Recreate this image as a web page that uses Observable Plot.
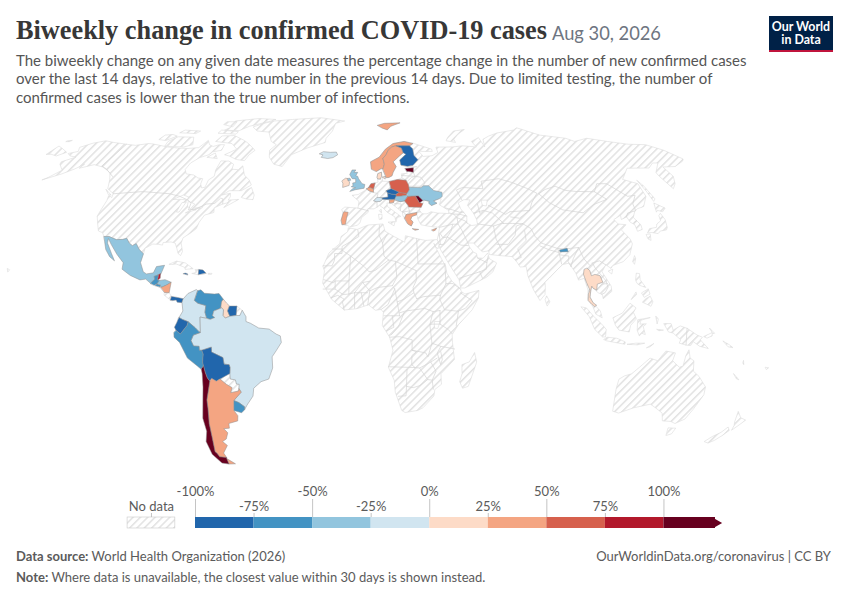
<!DOCTYPE html>
<html><head><meta charset="utf-8">
<script src="https://cdn.jsdelivr.net/npm/d3@7"></script>
<script src="https://cdn.jsdelivr.net/npm/@observablehq/plot@0.6"></script>
<style>
html,body{margin:0;padding:0;background:#fff}
#page{position:relative;width:850px;height:600px;overflow:hidden;font-family:Lato,sans-serif}
#page>*{position:absolute}
#title{left:16px;top:13px;font:700 26.3px "Liberation Serif",serif;color:#373737;white-space:nowrap;line-height:36px}
#date{left:552px;top:20px;font:400 18.3px Lato;color:#6e7581;white-space:nowrap;line-height:26px}
#sub{left:16px;top:51px;width:780px;font:400 15px/18.4px Lato;color:#555}
#logo{left:769px;top:16px;width:64px;height:36px;background:#002147;border-bottom:2.5px solid #c0143c;box-sizing:border-box;color:#fff;font:700 12.4px/13px Lato;text-align:center;padding-top:4px;white-space:nowrap}
#src{left:16px;top:548px;font:400 13px Lato;color:#5b5b5b;line-height:16px}
#lnk{right:19px;top:548px;font:400 13px Lato;color:#5b5b5b;line-height:16px}
#note{left:16px;top:569px;font:400 13px Lato;color:#5b5b5b;line-height:16px}
#map{left:0;top:105px}
#leg{left:0;top:480px}
</style></head><body>
<div id="page">
<div id="title">Biweekly change in confirmed COVID-19 cases</div>
<div id="date">Aug 30, 2026</div>
<div id="sub">The biweekly change on any given date measures the percentage change in the number of new confirmed cases<br>over the last 14 days, relative to the number in the previous 14 days. Due to limited testing, the number of<br>confirmed cases is lower than the true number of infections.</div>
<div id="logo">Our World<br>in Data</div>
<div id="map"></div>
<div id="leg"></div>
<div id="src"><b>Data source:</b> World Health Organization (2026)</div>
<div id="lnk">OurWorldinData.org/coronavirus | CC BY</div>
<div id="note"><b>Note:</b> Where data is unavailable, the closest value within 30 days is shown instead.</div>
</div>
<script>
// ---------- legend / scale ----------
const thresholds=[-75,-50,-25,0,25,50,75,100];
const binColors=["#2166ac","#4393c3","#92c5de","#d1e5f0","#fddbc7","#f4a582","#d6604d","#b2182b","#67001f"];
const binEdges=[-100,-75,-50,-25,0,25,50,75,100,122];
const tickValues=[-100,-75,-50,-25,0,25,50,75,100];
const tickLabels=["-100%","-75%","-50%","-25%","0%","25%","50%","75%","100%"];

// ---------- no-data land ----------
const northAmerica=[[-168,65.6],[-164,66.5],[-166.5,68.3],[-162,70.2],[-156.5,71.3],[-150,70.5],[-141,69.7],[-135,69.2],[-128,70],[-125,69.8],[-115,68.5],[-108,68],[-102,67.8],[-96,68.2],[-94,71.5],[-91,69.5],[-88,68.7],[-85,69.5],[-82,69.5],[-81.5,67],[-86,66.3],[-87,65],[-91,63.8],[-94,61.5],[-94.5,58.8],[-92.5,57],[-88,56.5],[-85,55.3],[-82.3,55],[-82,52.9],[-80.5,51.3],[-79,51.6],[-79,54.5],[-77,56],[-78,58.7],[-78,62.4],[-73.5,62.3],[-70,61],[-69.5,58.9],[-66,58.7],[-64.5,60.3],[-61.5,56.5],[-58,54.5],[-56,52.5],[-60,50.2],[-66,50.2],[-69,48.5],[-65,49.2],[-64.5,47.8],[-65,46.5],[-60,46.8],[-66,43.6],[-64.5,45.5],[-67,45],[-70.5,43.5],[-70,41.7],[-74,40.7],[-75.5,38],[-76,35.5],[-78,33.9],[-81,32],[-81.3,30],[-80,26.8],[-80.5,25.2],[-81.8,26],[-82.8,28],[-84,30],[-86,30.4],[-89.5,30.2],[-89.5,29.2],[-91.5,29.5],[-94,29.6],[-97,28],[-97.2,25.9],[-99.5,27.5],[-101.5,29.8],[-103,29],[-104.7,30],[-106.5,31.8],[-108.2,31.4],[-111,31.3],[-114.8,32.5],[-117.1,32.5],[-118.5,34],[-120.6,34.6],[-122.5,37.5],[-124.3,40.3],[-124.2,43],[-124,46.3],[-124.7,48.4],[-122.5,47.5],[-123,49],[-125,50],[-127.5,51],[-130,54.5],[-133,57.3],[-136,58.5],[-140,59.8],[-146,60.8],[-149,60],[-152,59.3],[-151.5,61],[-154,59],[-158,57],[-165,54.5],[-163,55.6],[-160,58.5],[-162,59.5],[-165,61],[-166,62],[-161,64],[-165,64.5]];
const chukotkaWest=[[-179.9,65.2],[-179.9,68.9],[-175,67.6],[-170,66.1],[-173,64.5],[-177,65.2]];
const wrangel=[[-179.9,71.3],[-177.5,71.5],[-178,70.9],[-179.9,70.9]];
const baffin=[[-80,73.7],[-72,71.5],[-68,70],[-62,67],[-64,65],[-65,62.5],[-70,63],[-75,64.5],[-78,65],[-73,67.5],[-78,70],[-89,71],[-88,73.5]];
const victoriaIsland=[[-117,69],[-105,68.5],[-101,69.5],[-105,73],[-115,73.2],[-118,71]];
const banksIsland=[[-125,72],[-120,71.5],[-116,73.5],[-120,74.3],[-124.5,74]];
const ellesmere=[[-90,76.5],[-80,76.3],[-76,78.5],[-66,81],[-62,82.5],[-75,83.1],[-90,81.5],[-88,78]];
const devon=[[-92,75],[-80,74.6],[-80,75.7],[-92,76.5]];
const melville=[[-117,75.2],[-106,74.8],[-105,76],[-116,76.5]];
const axelHeiberg=[[-95,79.5],[-87,78.3],[-88,81],[-95,81]];
const southampton=[[-87,64],[-81,63.5],[-84,65.8]];
const newfoundland=[[-59,47.7],[-56,46.9],[-53,46.7],[-53,48.5],[-55.5,51.5],[-57.5,50.5]];
const vancouverIsland=[[-128,50.7],[-123.5,48.4],[-125,48.7]];
const greenland=[[-73,78.2],[-68,76],[-60,75.5],[-55,71],[-51,69.5],[-53.5,67],[-52,64],[-48,61],[-43,60],[-40,65],[-32,68],[-22,70.5],[-22,72.5],[-19,76],[-18,80],[-12,81.5],[-30,83.6],[-50,82.5],[-62,81.5],[-68,80]];
const hawaii=[[-156,20.2],[-155,19.8],[-155.5,19]];
const cuba=[[-85,21.9],[-82,23.1],[-78,22.4],[-74.2,20.2],[-77.7,19.9],[-78,20.7],[-82,22],[-84,21.8]];
const haiti=[[-74.4,18.4],[-71.7,18],[-71.7,19.9],[-73.3,19.9],[-72.7,18.7]];
const puertoRico=[[-67.2,18.4],[-65.7,18.4],[-65.9,18],[-67.1,18]];
const costaRica=[[-85.7,11.1],[-83.7,11],[-82.6,9.6],[-83,8.2],[-85.7,10]];
const frenchGuiana=[[-54,5.9],[-51.6,4.2],[-52.8,2.3],[-54.3,2.3]];
const paraguay=[[-58,-19.9],[-58,-22],[-55.8,-22.3],[-55.5,-23.9],[-54.3,-24],[-54.6,-25.6],[-55,-26.6],[-58.5,-27.2],[-57.6,-25.3],[-60,-24],[-62.6,-22]];
const eurasia=[[-9.3,43],[-8,43.8],[-1.7,43.4],[-1.2,46],[-4.7,48.4],[-1.6,48.7],[1.5,50.2],[3.5,51.4],[4.8,53],[8.5,53.6],[8.2,56],[8.6,57.1],[10.6,57.7],[10.9,54],[14.3,53.9],[18.6,54.7],[21,55.3],[21,57],[24.2,57.2],[23.5,59.2],[28,59.5],[30,60],[25,60.1],[21.5,60.7],[21.3,62.8],[25.3,65.2],[24,65.9],[21.5,64.5],[17.5,62],[18.8,60],[16.7,57.5],[16,56.2],[13,55.4],[11,59],[8,58],[5.3,59],[5,62],[10,64],[14,67.5],[19,70],[26,71],[31,70.2],[41,67.5],[41,66.5],[35,66.5],[33,66.7],[35,64.3],[40,64.6],[44,66],[44,68.4],[54,68.5],[60,69],[68,68.5],[67,71],[73,72.8],[73,68.5],[75,72],[80,73.5],[87,75],[100,76.5],[104,77.7],[113,74],[127,72.5],[130,71],[140,72.5],[150,71],[160,69.7],[170,69.5],[176,67],[179.9,63.2],[178,62.3],[170,60],[163,59.8],[163,56],[160,53],[156.7,51],[155.7,56],[156,57.5],[163,61.5],[160,61.5],[155,59.4],[143,59.3],[135,54.7],[141,53],[140,48],[135.5,44],[132,43.2],[130,42.3],[127.5,39.8],[129.4,37],[129,35.2],[126.5,34.5],[126.6,37],[125,38],[124.5,40],[121.5,39],[122,40.6],[118,39],[119,37.3],[122.5,37],[119.3,35],[121.8,31.5],[122,29.7],[119.5,25.5],[116,22.9],[111,21.4],[110,20.3],[108,21.7],[105.8,19],[109,13.5],[109,11.5],[105,8.7],[104.8,10.3],[103,11],[101,12.7],[100.5,13.5],[99.3,9.5],[100.5,7],[103.5,4],[104.2,1.4],[101.5,2.8],[100.4,5.5],[98.3,8.5],[98.7,12],[97.6,16.5],[95,15.8],[94.2,18.5],[91.8,22.3],[89,21.8],[86.5,20],[82.3,16.6],[80.2,15],[80.2,13],[79.8,10.3],[77.5,8],[75,12],[73,17.5],[72.7,21],[70,20.8],[69,22.5],[67,24.8],[61.6,25.2],[57,25.6],[56.8,27],[54,26.6],[50.5,30],[48,30],[48.5,28.5],[50,26.5],[51.3,26],[51.5,24.3],[54,24.2],[56.3,26.2],[56.8,24],[59.8,22.4],[57.8,19],[55,17],[52,15.7],[45,12.8],[43.3,12.8],[42.7,16],[39,21.5],[35.1,28],[34.9,29.5],[34.3,31.3],[35,33],[36,36],[33,36.2],[30.5,36.5],[27.5,37],[26.3,39.3],[26.3,40.2],[26,40.8],[23.7,40.2],[23,39],[24,38],[23,36.5],[21.5,37.3],[19.5,40.5],[19.4,41.8],[14.5,45.2],[12.3,45.4],[12.5,44],[16,41.8],[18.5,40.2],[16.8,39.8],[16,38],[15.7,40],[12.2,41.8],[10.3,43.5],[8.7,44.4],[6,43.1],[3,43.1],[3.2,41.8],[0,39.7],[-0.7,37.7],[-2,36.8],[-5.4,36.1],[-6.3,36.7],[-9,37],[-9.5,38.8],[-8.7,41]];
const africa=[[-5.9,35.8],[-2,35.2],[3,36.9],[10,37.3],[10.8,34.5],[15,32.4],[19.5,30.3],[20,32.8],[25,31.7],[29,31],[32.3,31.2],[34.3,31.3],[34.9,29.5],[34.3,27.8],[33.2,28.6],[32.6,29.9],[33.7,27.5],[35.5,24],[37.2,21],[37.5,18.5],[39.5,15.5],[43.2,12.5],[43.4,11.5],[45,10.5],[51.2,11.9],[50.8,9],[48,4.5],[42,-1.2],[39.3,-5],[39.5,-8],[40.6,-14.5],[35,-20],[35.5,-24],[32.7,-26],[32.5,-28.5],[28,-33],[25.7,-34],[20,-34.8],[18.4,-34],[15.1,-27],[14.5,-22.5],[11.8,-17.5],[13.7,-11],[12.2,-6],[9,-1.5],[9.5,3.5],[8.5,4.6],[6,4.3],[3,6.4],[-2,4.9],[-7.5,4.4],[-13,8.5],[-17,14.7],[-16.3,19.3],[-17,21],[-14.5,26.2],[-9.8,29.8],[-9.3,32.5],[-6.5,34.2]];
const madagascar=[[49.3,-12],[50.4,-15.5],[47.5,-24.8],[45,-25.5],[43.5,-23],[44.3,-20],[44,-16.5],[47,-15.5]];
const sicily=[[12.5,38],[15.6,38.2],[15.1,36.7]];
const sardinia=[[8.2,41],[9.7,41],[9.6,39.2],[8.5,39]];
const corsica=[[8.6,42.5],[9.4,43],[9.5,41.6]];
const novayaZemlya=[[52,71.5],[57,70.7],[57,72],[68,76.8],[60,76],[54,73]];
const sakhalin=[[142,54.3],[143,52],[143.5,47],[142,46],[142,50]];
const honshu=[[130.9,34],[132.5,35.5],[136,36],[137,37.3],[139.5,38.5],[140,40.5],[141.4,41.4],[141.9,39],[141,36],[140,35],[137,34.6],[135.5,33.6],[133,34]];
const kyushu=[[130,33.3],[131.8,33.5],[131,31],[130,31.5]];
const hokkaido=[[140,42],[141.5,45.4],[145.3,43.4],[143,42],[141,42.5]];
const taiwan=[[120.2,23],[121.5,25.2],[121.7,24],[120.8,22]];
const hainan=[[108.7,19.3],[110.7,20],[110,18.3]];
const sriLanka=[[79.8,8.5],[80.5,9.8],[81.8,7.5],[80.6,6]];
const luzon=[[120,16],[120.8,18.5],[122.2,18.3],[122,16],[124,13],[121.5,13.8],[120.5,14.5]];
const mindanao=[[122,7.5],[123.5,8.7],[125.5,9.7],[126.5,7.5],[125.5,5.8],[124,6.5]];
const visayas=[[122,11],[125,12.5],[125.5,10.5],[123,9.3]];
const palawan=[[117.2,8.5],[119.5,11.3],[119.6,10.4]];
const sumatra=[[95.3,5.6],[97.5,5.2],[100.5,2],[104,-1],[106,-3],[105.8,-5.9],[104.5,-5.9],[101,-3],[98.7,1.7]];
const java=[[105.2,-6.8],[106.5,-6],[110.8,-6.4],[114.5,-7.8],[114.4,-8.7],[110,-8],[106.5,-7.4]];
const borneo=[[109,1.5],[111.3,2.5],[113,3.2],[116.5,7],[119,5.2],[117.8,3.5],[119,1],[116.5,-1.5],[116,-4],[111.5,-3.3],[110,-1.5]];
const sulawesi=[[119.7,0.7],[125,1.5],[121,0.5],[120.5,-1],[123.3,-0.9],[122,-2],[123,-5],[121.5,-4.5],[120.4,-5.5],[119.5,-3.5]];
const newGuinea=[[131,-0.8],[134,-0.8],[135,-3.3],[138,-1.7],[141,-2.6],[145.5,-5.2],[147.8,-6],[147,-7],[150.8,-10.3],[147,-9.5],[144,-7.7],[143,-9.2],[141,-9],[138,-8.3],[138.5,-7],[135,-4.4],[133,-4],[132.2,-2.8]];
const timor=[[124,-10],[127,-8.4],[125.5,-9.6]];
const lesserSunda=[[115.5,-8.7],[119,-8.3],[123,-8.3],[120,-8.9]];
const halmahera=[[127.5,2],[128.5,1],[128,-0.8]];
const seram=[[128,-3],[130.8,-3.3],[129,-3.5]];
const newBritain=[[148.5,-5.7],[152,-4.2],[152,-5.5],[150,-6.3]];
const newIreland=[[150.8,-2.6],[153,-4.5],[152.4,-4.6]];
const solomons=[[157,-7.5],[160,-9],[161.5,-10],[159.5,-9.7]];
const vanuatu=[[167,-15],[167.5,-16.5],[167,-16]];
const newCaledonia=[[164,-20],[167,-22.3],[166,-22]];
const fiji=[[177.3,-17.5],[178.7,-17.7],[178,-18.3]];
const nzNorth=[[172.7,-34.5],[175.5,-36.8],[178.5,-37.7],[177,-39.5],[175.3,-41.6],[174.8,-39.8],[174,-38.5]];
const nzSouth=[[172.7,-40.5],[174.3,-41.7],[172.8,-43.7],[171,-45.5],[169,-46.6],[166.5,-46],[168.5,-44],[171,-42.5]];
const australia=[[114,-22],[113.5,-26],[115,-34.3],[118,-35],[124,-33],[131,-31.6],[134,-33],[138,-35],[140,-38],[144,-38.2],[146.5,-39],[150,-37.3],[151.5,-33.5],[153.5,-28],[153,-25],[149,-21],[146,-19],[145.3,-15],[143.5,-14],[142.5,-10.8],[141.5,-13],[141,-17],[139.5,-17.5],[136,-15],[136.8,-12],[132.5,-11.3],[129.5,-15],[126,-14],[122,-17.5],[119,-20],[116,-20.8]];
const tasmania=[[144.7,-40.7],[148.2,-40.8],[148,-43],[146,-43.6]];
const noDataLand=[northAmerica,chukotkaWest,wrangel,baffin,victoriaIsland,banksIsland,ellesmere,devon,melville,axelHeiberg,southampton,newfoundland,vancouverIsland,greenland,hawaii,cuba,haiti,puertoRico,costaRica,frenchGuiana,paraguay,eurasia,africa,madagascar,sicily,sardinia,corsica,novayaZemlya,sakhalin,honshu,kyushu,hokkaido,taiwan,hainan,sriLanka,luzon,mindanao,visayas,palawan,sumatra,java,borneo,sulawesi,newGuinea,timor,lesserSunda,halmahera,seram,newBritain,newIreland,solomons,vanuatu,newCaledonia,fiji,nzNorth,nzSouth,australia,tasmania];

// ---------- inland water ----------
const blackSea=[[27.7,42.5],[28,43.5],[29.7,45.2],[30.7,46.5],[33,46],[32.5,45.3],[33.7,44.4],[36.5,45.3],[35,46.2],[38.2,47.1],[39,47],[37.5,44.7],[41.5,42.5],[41.3,41.3],[36,41.5],[33,42],[31,41.2],[29,41.2],[28,41.8]];
const caspian=[[47,45.5],[50,46.7],[53,46.6],[51,44.5],[53,41.5],[53.8,39],[53.8,37],[51,36.7],[49,37.6],[49.5,40.3],[47.5,43]];
const aral=[[58.5,46.5],[61.3,46.5],[60,44.2],[58.3,44.5]];
const superior=[[-92,46.8],[-88,48.5],[-85,47.8],[-85,46.6],[-88,46.8]];
const michigan=[[-87.8,42],[-86.5,42],[-85,45.8],[-87,45.5]];
const huron=[[-84,46],[-80.5,45],[-81.7,43.2],[-83.5,44]];
const erie=[[-83.3,41.6],[-79,42.8],[-81,42.8]];
const ontario=[[-79.7,43.4],[-76.3,44],[-76.3,43.5],[-79,43.3]];
const victoriaLake=[[31.7,0],[34,0],[33,-2.7],[31.7,-2.5]];
const water=[blackSea,caspian,aral,superior,michigan,huron,erie,ontario,victoriaLake];

// ---------- borders among no-data countries ----------
const borders=[
[[-123,49],[-95,49],[-89.5,48],[-84.5,46.5],[-82.5,45.3],[-82.5,42.7],[-79,43],[-76,44.5],[-74.7,45],[-71,45.2],[-69,47.3],[-67.8,47],[-67,45]],
[[-141,69.7],[-141,60.2],[-137,59],[-130,55.9]],
[[-1.7,35],[-1.2,32.5],[-5,30.5],[-8.7,28.7],[-8.7,27.7],[-13,27.7]],
[[-8.7,27.7],[-8.7,26],[-12,26],[-12,23.4],[-13,21.3],[-17,21.3]],
[[-8.7,27.3],[-4.8,25],[-5.5,15.5],[-11.5,15.5],[-12.2,14.8],[-16.5,16]],
[[-4.8,25],[1.2,21],[3.3,19],[6,19.5],[12,23.5]],
[[8.3,36.9],[8,33],[9.5,30],[10,25],[12,23.5]],
[[11.5,33.2],[9.5,30]],
[[12,23.5],[15,23],[24,19.5]],
[[25,31.7],[25,22],[36.9,22]],
[[24,19.5],[24,15.7],[22.5,13],[22.8,11],[24,8.7]],
[[15,23],[15.5,16.9],[13.5,13.7]],
[[3.5,15.4],[0.5,14.9],[3.6,11.7],[7,13],[13.5,13.7]],
[[-5.5,10.5],[-3,11],[0.5,14.9]],
[[-16.7,12.4],[-11.5,12.4],[-8,10.3],[-5.5,10.5],[-5.5,15.5]],
[[-11.5,12.4],[-11.5,15.5]],
[[-13.2,9.1],[-10.3,10],[-7.5,8.5],[-8.3,7.6],[-7.5,4.4]],
[[-3,11],[-3,5.1]],[[-0.1,11],[1,6]],[[2.7,6.3],[3.6,11.7]],[[-3,11],[2.7,11]],
[[8.5,4.6],[11.5,6.5],[14.5,12.5],[14,13]],
[[14.5,12.5],[15.5,7.5],[16.5,2.2]],[[15.5,7.5],[18.5,8.5],[22.8,11]],
[[16.5,3.3],[19,4],[27.4,5],[31,3.8],[34,4.2]],
[[24,8.7],[27,9.5],[33,10],[34.3,10]],
[[36.9,22],[36.9,14.5],[34.3,10],[34,8.5],[36,4.5],[41,4],[42,4]],
[[36.9,14.5],[40,14.5],[43,12.5]],
[[43,11],[48,8],[45,5],[42,4],[41,-1.7]],
[[34,4.2],[34,-1],[37.5,-3],[39.3,-4.7]],
[[31,3.8],[29.6,-1.3],[30.5,-1],[34,-1]],
[[9.7,2.2],[13.3,2.2],[16.5,2.2]],[[18.5,3.5],[16,-2],[13,-5]],[[13.3,2.2],[14,-2.2],[11,-3.5]],
[[12.2,-6],[16.5,-5.8],[22,-7],[22,-11],[24,-11.5],[22,-13],[22,-16.5],[23.5,-17.6],[11.8,-17.3]],
[[22,-11],[28,-12],[29,-13.5],[30.6,-8.3],[29.6,-1.3]],
[[30.6,-8.3],[34.5,-9.5],[40.5,-10.5]],
[[34.5,-9.5],[33,-12],[34.7,-16.5],[35.3,-14.5],[34.5,-11.5]],
[[33,-14],[30.3,-15.5],[32.8,-19],[31.3,-22.4],[32,-25.9]],
[[30.3,-15.5],[25.5,-17.8],[23.5,-17.6]],
[[20,-18.3],[20,-24.8],[23,-25.3],[26,-24.5],[29.3,-22.2],[25.5,-17.8]],
[[20,-24.8],[20,-28.4],[16.5,-28.6]],[[29.3,-22.2],[31.3,-22.4]],
[[-1.7,43.4],[3.2,42.4]],
[[2.5,51],[4.2,50],[6,49.5],[8.2,49],[7.6,47.6],[6,46.3],[7.5,45.9],[7.5,43.8]],
[[6,50.8],[7,53.3]],[[8.6,54.9],[10,54.7]],[[14.3,53.9],[14.9,51],[12.3,50.2],[13,49.3],[13,47.7],[9.6,47.5]],
[[9,46],[10.4,46.9],[12.3,46.8],[13.6,46.5]],
[[13.6,45.5],[15.5,45.6],[16.2,46.4],[18.9,45.9]],[[16,45.2],[19.2,45],[18.5,42.5]],
[[18.9,46],[21,46.2],[22.4,44.2],[22.8,42.3],[20.5,42],[19.4,42]],
[[22.4,44.2],[28.6,43.7]],[[22.8,42.3],[22.8,41.3],[26.3,41.7],[28,42]],
[[19.4,42],[20.5,41.5],[20.8,40.3],[20.2,39.6]],
[[23.5,52],[31,52],[32.5,53.3],[30.9,55.6],[28,56],[26,55.5],[23.5,53.9]],
[[21,56.3],[28,56]],[[21,55.3],[23,54.4]],[[27.5,57.6],[28,56]],
[[36,36],[42.3,37.2],[44.8,37.2],[44.8,39.7],[43.5,41.1],[41.5,41.5]],
[[40,43.5],[43.5,42.7],[46.5,41.8],[48.5,41.8]],[[43.5,41.1],[46.5,41],[49.5,40.3]],[[44.8,39.7],[48.5,38.4],[49,37.6]],
[[44.8,37.2],[46,35],[48,30]],[[42.3,37.2],[41,34.5],[39,32.3],[37,32],[36,33.5]],
[[39,32.3],[44.7,29.2],[48,29]],[[35,29.4],[37,29.5],[39,32.3]],[[35.5,33],[35.5,29.5]],
[[42.8,16.5],[52,19],[55,20],[55.5,22.5],[51.5,24.3]],[[52,19],[53,16.6]],[[55.5,22.5],[56.3,25]],
[[53.8,37.3],[61,36.5],[61,31.5],[63,27],[61.6,25.2]],
[[61,29.5],[66,29.5],[70,33],[71.5,36.5],[74.8,37.4]],[[61,36.5],[65,37.5],[70,37.5],[74.8,37.4]],
[[53,41.5],[58,42.5],[62,41.5],[66,37.5]],[[56,45],[56,41.3],[58,42.5]],[[61,44.5],[68,41],[70.5,42]],
[[70.5,42],[80,42.5],[74,39.5],[70,40]],
[[49,46.5],[47.5,50.5],[51,51.5],[61,51],[61.5,54],[71,55],[77,53.5],[83.5,51],[87,49.2],[82.5,45.5],[80,42.5]],
[[87.8,49],[91,45.5],[96,42.7],[105,41.6],[112,44.8],[119.8,46.8],[116,49.8]],
[[87.8,49],[92,50.7],[98,52],[102,50.3],[107,49.9],[116,49.8],[120,53],[125,53],[131,48],[135,48.4],[131,45],[130.5,42.4],[126,41.5],[124.4,40]],
[[126.7,37.8],[128.4,38.6]],
[[74.8,37.4],[78,35.5],[79,32.5],[81,30],[88,27.9],[92,27.8],[97.4,28.3],[98.7,24],[101,21.3],[102.2,22.4],[105.5,23.2],[108,21.6]],
[[80.2,28.9],[84,27.4],[88,26.4],[88,27.9]],
[[74.8,34.7],[74.5,31],[70,27.8],[71,24.5],[68.2,23.7]],
[[88.2,26.3],[88.5,22]],[[88.2,25.5],[92.3,25],[91.5,23],[92.5,21]],[[97.4,28.3],[94,24],[92.5,21]],
[[102.2,22.4],[103,20.5],[107,15.5],[107.5,13],[106,11],[104.5,10.4]],[[102.5,12],[105,14.3],[107.5,14.5]],
[[99.5,20.3],[101,21.3]],[[141,-2.6],[141,-9]]
];

// ---------- reported countries: outlines ----------
const mexico=[[-117.1,32.5],[-114.8,32.5],[-111,31.3],[-108.2,31.4],[-106.5,31.8],[-104.7,30],[-103,29],[-101.5,29.8],[-99.5,27.5],[-97.2,25.9],[-97.8,22.5],[-96,19],[-94.5,18.2],[-91.5,18.6],[-90.5,21],[-87,21.5],[-88,18.5],[-88.3,17.8],[-89.1,17.9],[-91,17.2],[-90.5,16.2],[-92.2,14.6],[-94.5,16.2],[-97,15.9],[-101.5,17.6],[-105.5,20],[-105.5,22.5],[-109,25.7],[-112.7,29.5],[-114.8,31.7],[-114.5,30],[-111.5,26],[-109.5,23.2],[-112,24.8],[-114.5,27.5],[-116,30.5]];
const guatemala=[[-92.2,14.6],[-90.5,16.2],[-91,17.2],[-89.1,17.9],[-89.2,15.9],[-88.3,15.7],[-89.3,14.4],[-90.5,13.9]];
const belize=[[-89.1,17.9],[-88.3,18.4],[-88.2,16.5],[-89.2,15.9]];
const elSalvador=[[-90.1,13.8],[-89.3,14.4],[-87.8,13.9],[-87.8,13.2]];
const honduras=[[-89.3,14.4],[-88.3,15.7],[-86,16],[-83.2,15],[-85,14],[-87.3,13],[-87.8,13.9]];
const nicaragua=[[-87.5,13],[-85,14],[-83.2,15],[-83.7,11],[-85.7,11.1]];
const panama=[[-83,8.2],[-82.6,9.6],[-80,9.2],[-77.4,8.7],[-77.9,7.2],[-80,7.4],[-80.5,8.2],[-82,8]];
const jamaica=[[-78.3,18.3],[-76.3,17.9],[-76.5,18.3],[-77.5,18.5]];
const dominicanRep=[[-71.7,18],[-68.4,18.5],[-69.8,19.7],[-71.7,19.9]];
const colombia=[[-77.4,8.7],[-75.5,10.7],[-72,12.2],[-71.3,11.8],[-72.5,8],[-71,7],[-67.5,6.1],[-67.8,3.5],[-67,1.2],[-69.9,1.7],[-69.8,-4.2],[-70.5,-3.8],[-72,-2.4],[-75,-0.1],[-77.5,0.8],[-79,1.5],[-77.4,4],[-77.9,7.2]];
const venezuela=[[-71.3,11.8],[-70,12.1],[-68.3,10.8],[-64,10.5],[-62,10.7],[-60,8.5],[-60.7,7.5],[-61,5.2],[-60.7,5.2],[-64,4],[-64.5,2.2],[-63.5,1.5],[-65.5,0.8],[-67,1.2],[-67.8,3.5],[-67.5,6.1],[-71,7],[-72.5,8]];
const guyana=[[-60,8.5],[-58.5,7],[-57.2,5.9],[-58,4],[-57,2],[-59,1.3],[-60,2.3],[-59.8,4.5],[-60.7,5.2],[-61,5.2],[-60.7,7.5]];
const suriname=[[-57.2,5.9],[-54,5.9],[-54.3,2.3],[-57,2],[-58,4]];
const brazil=[[-51.6,4.2],[-50,1.8],[-50,0],[-48,-0.7],[-44.5,-2.5],[-40,-2.9],[-37,-4.8],[-35.2,-5.5],[-34.8,-8],[-37,-11],[-39,-13.5],[-39,-17.8],[-41,-22],[-44.5,-23],[-48,-25.5],[-48.7,-28.5],[-52,-32],[-53.4,-33.7],[-53.2,-32.6],[-55.5,-31],[-57.6,-30.2],[-53.8,-27],[-54.6,-25.6],[-54.3,-24],[-55.5,-23.9],[-55.8,-22.3],[-58,-22],[-58,-19.9],[-57.7,-17.6],[-58,-16.5],[-60.2,-16.3],[-60.5,-13.8],[-65.3,-11.7],[-65.3,-9.8],[-69.5,-11],[-70.6,-11],[-70.6,-9.5],[-73,-9.4],[-74,-7.3],[-72.9,-5.2],[-69.8,-4.2],[-69.9,1.7],[-67,1.2],[-65.5,0.8],[-63.5,1.5],[-64.5,2.2],[-64,4],[-60.7,5.2],[-59.8,4.5],[-60,2.3],[-59,1.3],[-57,2],[-54.3,2.3],[-52.8,2.3]];
const ecuador=[[-79,1.5],[-77.5,0.8],[-75,-0.1],[-75.5,-1.5],[-78.5,-4.8],[-80.3,-3.4],[-81,-2.2],[-80,-0.5]];
const peru=[[-80.3,-3.4],[-78.5,-4.8],[-75.5,-1.5],[-75,-0.1],[-72,-2.4],[-70.5,-3.8],[-69.8,-4.2],[-72.9,-5.2],[-74,-7.3],[-73,-9.4],[-70.6,-9.5],[-70.6,-11],[-69.5,-11],[-69,-12.5],[-69.5,-15.5],[-69.3,-17],[-70.4,-18.3],[-72,-17],[-76,-14],[-79,-8],[-81.3,-6],[-81.3,-4.3]];
const bolivia=[[-69.5,-11],[-65.3,-9.8],[-65.3,-11.7],[-60.5,-13.8],[-60.2,-16.3],[-58,-16.5],[-57.7,-17.6],[-58,-19.9],[-62.6,-22],[-64.3,-22.8],[-66.2,-21.8],[-67.2,-22.8],[-68.2,-21.5],[-68.8,-19.5],[-69.3,-17],[-69.5,-15.5],[-69,-12.5]];
const uruguay=[[-57.6,-30.2],[-55.5,-31],[-53.2,-32.6],[-53.4,-33.7],[-55,-34.9],[-58.4,-34],[-58,-32]];
const argentina=[[-66.2,-21.8],[-64.3,-22.8],[-62.6,-22],[-60,-24],[-57.6,-25.3],[-58.5,-27.2],[-55,-26.6],[-54.6,-25.6],[-53.8,-27],[-57.6,-30.2],[-58,-32],[-58.4,-34],[-57,-36],[-57.6,-38],[-62,-39],[-62.3,-40.8],[-65,-41],[-63.7,-42.6],[-65.3,-45],[-67.5,-46],[-65.8,-47.5],[-69,-50.5],[-68.4,-52.3],[-71.8,-52],[-72.4,-50.5],[-73,-50],[-71.8,-44],[-71.2,-39],[-70.5,-36],[-70,-33],[-69.7,-30],[-68.4,-26.5],[-67.2,-22.8]];
const tierraDelFuegoAr=[[-68.6,-52.7],[-65.2,-54.8],[-68.6,-54.9]];
const chile=[[-69.3,-17],[-68.8,-19.5],[-68.2,-21.5],[-67.2,-22.8],[-68.4,-26.5],[-69.7,-30],[-70,-33],[-70.5,-36],[-71.2,-39],[-71.8,-44],[-73,-50],[-72.4,-50.5],[-71.8,-52],[-68.4,-52.3],[-68.6,-52.7],[-68.6,-54.9],[-72,-54.5],[-75,-51],[-75.5,-46],[-73.5,-42],[-73.5,-37],[-71.5,-30],[-70.5,-25],[-70.2,-20],[-70.4,-18.3]];
const portugal=[[-9.5,38.8],[-8.9,37],[-7.4,37.2],[-7,39.5],[-6.3,41.8],[-8.2,42],[-8.7,41.5]];
const denmarkJutland=[[8.1,55.6],[8.6,57.1],[10.6,57.7],[10.5,56],[9.8,54.9],[8.6,54.9]];
const denmarkZealand=[[11,55.7],[12.5,56],[12.3,55]];
const netherlands=[[3.5,51.4],[4.8,53],[7,53.3],[6,50.8],[4.5,51.4]];
const belgium=[[2.5,51],[3.5,51.4],[4.5,51.4],[6,50.8],[6,49.6],[4.2,50]];
const greatBritain=[[-5.7,50],[-3,50.6],[1.3,51.2],[1.7,52.7],[0.3,53],[-1.5,55],[-2,56],[-3,56.2],[-2,57.6],[-4,57.6],[-3,58.6],[-5,58.6],[-6.2,56.7],[-4.8,55],[-3,54.9],[-3,53.5],[-4.5,53.3],[-4.3,52.2],[-5.2,51.8],[-3,51.4],[-4.5,51]];
const northernIreland=[[-7.3,55.1],[-6,55.2],[-5.5,54.4],[-7,54.2]];
const ireland=[[-10,54.2],[-8.3,55.2],[-7.3,55.1],[-7,54.2],[-6.1,53.8],[-6.3,52.3],[-9.5,51.5],[-9.5,53]];
const iceland=[[-24,65.5],[-22,66.4],[-18,66.1],[-14.5,66.2],[-13.6,65],[-16,63.8],[-19,63.4],[-22.7,63.9],[-22,64.8]];
const norway=[[5.3,59],[8,58],[10.6,59.2],[11.5,59],[12.5,61],[12,63.5],[14,65],[15.5,67],[18,68.5],[20.5,69],[25,69],[28.5,69],[31,70],[26,71],[19,70],[14,67.5],[10,64],[5,62]];
const svalbard=[[11,79],[16,80],[27,80.3],[20,78.5],[17,76.6],[14,77.5]];
const sweden=[[11.5,59],[13,55.4],[14.3,55.5],[16,56.2],[16.7,57.5],[18.8,60],[17.5,62],[21.5,64.5],[24,65.9],[23.5,68],[20.5,69],[18,68.5],[15.5,67],[14,65],[12,63.5],[12.5,61]];
const finland=[[21.5,60.7],[25,60.1],[28,60.5],[31.5,62.9],[29.8,64.7],[30,67.7],[28.5,69],[25,69],[20.5,69],[23.5,68],[24,65.9],[25.3,65.2],[21.3,62.8]];
const estonia=[[23.5,59.2],[28,59.5],[27.5,57.6],[25,58],[24.2,58]];
const poland=[[14.3,53.9],[18.6,54.7],[23,54.4],[23.9,52.5],[24,50.6],[22.6,49.1],[19,49.4],[14.9,51]];
const czechia=[[12.3,50.2],[14.9,51],[18.8,49.6],[17,48.7],[14.9,48.8],[13,49.3]];
const slovakia=[[17,48.1],[17,48.7],[18.8,49.6],[19,49.4],[22.6,49.1],[22,48.4],[19,48]];
const austria=[[9.6,47.3],[13,47.7],[13,49.3],[14.9,48.8],[17,48.7],[17,47.9],[16.2,46.8],[12.3,46.8],[10.4,46.9]];
const switzerland=[[6,46.3],[7.6,47.6],[9.6,47.5],[10.4,46.9],[9,46],[7.5,45.9]];
const hungary=[[16.2,46.8],[17,48],[19,48],[22,48.4],[22.9,48],[21,46.2],[18.9,45.9]];
const slovenia=[[13.6,45.5],[13.6,46.5],[16.2,46.8],[15.5,45.6]];
const romania=[[22.9,48],[26.6,48.2],[28.2,45.5],[29.7,45.2],[28.6,43.7],[22.7,43.8],[22.4,44.5],[21,46.2]];
const moldova=[[26.6,48.2],[28,48.2],[30,46.4],[28.2,45.5]];
const ukraine=[[22.6,49.1],[24,50.6],[24,51.6],[30,51.4],[31.5,52.2],[34,52.2],[36,50.3],[40,49.6],[39.7,47.9],[38.2,47.1],[35,46.2],[36.5,45.3],[33.7,44.4],[32.5,45.3],[33,46],[30.7,46.5],[30,46.4],[28,48.2],[26.6,48.2],[22.9,48]];
const greece=[[20.2,39.6],[20.8,40.3],[21,40.9],[26.3,41.7],[26,40.8],[23.7,40.2],[23,39],[24,38],[23,36.5],[21.5,37.3]];
const crete=[[23.5,35.5],[26.3,35.2],[24.7,34.9]];
const cyprus=[[32.3,35],[34.6,35.7],[33.9,34.9],[33,34.6]];
const bhutan=[[88.6,27.3],[92.2,28],[92.4,26.7],[88.8,26.6]];
const thailand=[[99.5,20.3],[100.5,19.5],[100.9,17.5],[102.5,18],[104.7,17.5],[105.5,15],[103,14.3],[102.5,12],[101,12.7],[100.5,13.5],[99.9,12],[99.3,9.3],[100.5,7.2],[102,6.2],[101,5.7],[100,6.5],[98.4,8],[98.7,10.5],[99.5,12],[98.3,15],[97.5,18],[98,19.8]];

// ---------- reported countries: names, rings, values ----------
const countryNames=["Mexico","Guatemala","Belize","El Salvador","Honduras","Nicaragua","Panama","Jamaica","Dominican Republic","Colombia","Venezuela","Guyana","Suriname","Brazil","Ecuador","Peru","Bolivia","Uruguay","Argentina","Chile","Portugal","Denmark","Netherlands","Belgium","United Kingdom","Ireland","Iceland","Norway","Sweden","Finland","Estonia","Poland","Czechia","Slovakia","Austria","Switzerland","Hungary","Slovenia","Romania","Moldova","Ukraine","Greece","Cyprus","Bhutan","Thailand"];
const countryRings=[[mexico],[guatemala],[belize],[elSalvador],[honduras],[nicaragua],[panama],[jamaica],[dominicanRep],[colombia],[venezuela],[guyana],[suriname],[brazil],[ecuador],[peru],[bolivia],[uruguay],[argentina,tierraDelFuegoAr],[chile],[portugal],[denmarkJutland,denmarkZealand],[netherlands],[belgium],[greatBritain,northernIreland],[ireland],[iceland],[norway,svalbard],[sweden],[finland],[estonia],[poland],[czechia],[slovakia],[austria],[switzerland],[hungary],[slovenia],[romania],[moldova],[ukraine],[greece,crete],[cyprus],[bhutan],[thailand]];
const countryChange=[-35,-60,85,-60,-35,40,-85,-85,-85,-10,-60,10,-85,-10,-85,-60,-85,-60,40,120,40,10,60,40,-35,10,-10,40,40,-85,120,60,-85,60,-85,-10,-35,40,60,120,-35,40,40,-60,10];

// ---------- Robinson projection table ----------
const robinsonLen=[1,.9986,.9954,.99,.9822,.973,.96,.9427,.9216,.8962,.8679,.835,.7986,.7597,.7186,.6732,.6213,.5722,.5322];
const robinsonDrop=[0,.062,.124,.186,.248,.31,.372,.434,.4958,.5571,.6176,.6769,.7346,.7903,.8435,.8936,.9394,.9761,1];
function robinsonRaw(l,p){
  const a=Math.abs(p)*36/Math.PI, i=Math.min(Math.floor(a),17), t=a-i;
  const len=robinsonLen[i]+(robinsonLen[i+1]-robinsonLen[i])*t;
  const drop=robinsonDrop[i]+(robinsonDrop[i+1]-robinsonDrop[i])*t;
  return [0.8487*len*l,1.3523*drop*Math.sign(p)];
}
const world=()=>d3.geoProjection(robinsonRaw).scale(156).translate([361,216]);

function polygon(ring){
  const closed=[...ring,ring[0]];
  const g={type:"Polygon",coordinates:[closed]};
  return d3.geoArea(g)>2*Math.PI?{type:"Polygon",coordinates:[closed.slice().reverse()]}:g;
}
function multi(rings){return {type:"MultiPolygon",coordinates:rings.map(r=>polygon(r).coordinates)};}
const hatchDefs=()=>{
  const s=d3.create("svg:g");
  const p=s.append("defs").append("pattern").attr("id","hatch").attr("patternUnits","userSpaceOnUse")
    .attr("width",5.2).attr("height",5.2).attr("patternTransform","rotate(45)");
  p.append("rect").attr("width",5.2).attr("height",5.2).attr("fill","#fff");
  p.append("line").attr("x1",0).attr("x2",0).attr("y1",0).attr("y2",5.2).attr("stroke","#e2e2e2").attr("stroke-width",3);
  return s.node();
};
const reported=countryNames.map((name,i)=>({name,value:countryChange[i],geometry:multi(countryRings[i])}));

document.getElementById("map").append(Plot.plot({
  width:850,height:375,margin:0,
  projection:world,
  color:{type:"threshold",domain:thresholds,range:binColors},
  style:{background:"transparent"},
  marks:[
    hatchDefs,
    Plot.geo(noDataLand.map(polygon),{fill:"url(#hatch)",stroke:"#dcdcdc",strokeWidth:.6}),
    Plot.geo(water.map(polygon),{fill:"#fff",stroke:"#dcdcdc",strokeWidth:.6}),
    Plot.geo([{type:"MultiLineString",coordinates:borders}],{stroke:"#d6d6d6",strokeWidth:.7}),
    Plot.geo(reported,{geometry:d=>d.geometry,fill:d=>d.value,stroke:"#8f8f8f",strokeWidth:.5})
  ]
}));

// ---------- legend ----------
const legendBins=binColors.map((c,i)=>({x1:binEdges[i],x2:binEdges[i+1],v:binEdges[i]+1}));
const legendTicks=tickValues.map((v,i)=>({v,label:tickLabels[i],tall:i%2===0}));
document.getElementById("leg").append(Plot.plot({
  width:850,height:60,margin:0,
  x:{domain:[-100,125],range:[195,722],axis:null},
  y:{type:"identity",axis:null},
  color:{type:"threshold",domain:thresholds,range:binColors},
  style:{background:"transparent",fontFamily:"Lato"},
  marks:[
    hatchDefs,
    Plot.rect(legendBins,{x1:"x1",x2:"x2",y1:37,y2:48,fill:"v"}),
    Plot.dot([{x:122.6,v:120}],{x:"x",y:42.5,symbol:"triangle",r:3.4,rotate:90,fill:"#67001f"}),
    Plot.rect([{x1:-129,x2:-108.6}],{x1:"x1",x2:"x2",y1:37,y2:48,fill:"url(#hatch)",stroke:"#c9c9c9",strokeWidth:.6}),
    Plot.ruleX(legendTicks,{x:"v",y1:d=>d.tall?19:33,y2:37,stroke:"#b5b5b5",strokeWidth:.8}),
    Plot.ruleX([-118.8],{y1:33,y2:37,stroke:"#b5b5b5",strokeWidth:.8}),
    Plot.text(legendTicks,{x:"v",y:d=>d.tall?11:26,text:"label",fontSize:13,fill:"#5b5b5b"}),
    Plot.text(["No data"],{x:[-118.8],y:26,text:d=>d,fontSize:13,fill:"#5b5b5b"})
  ]
}));
</script>
</body></html>
